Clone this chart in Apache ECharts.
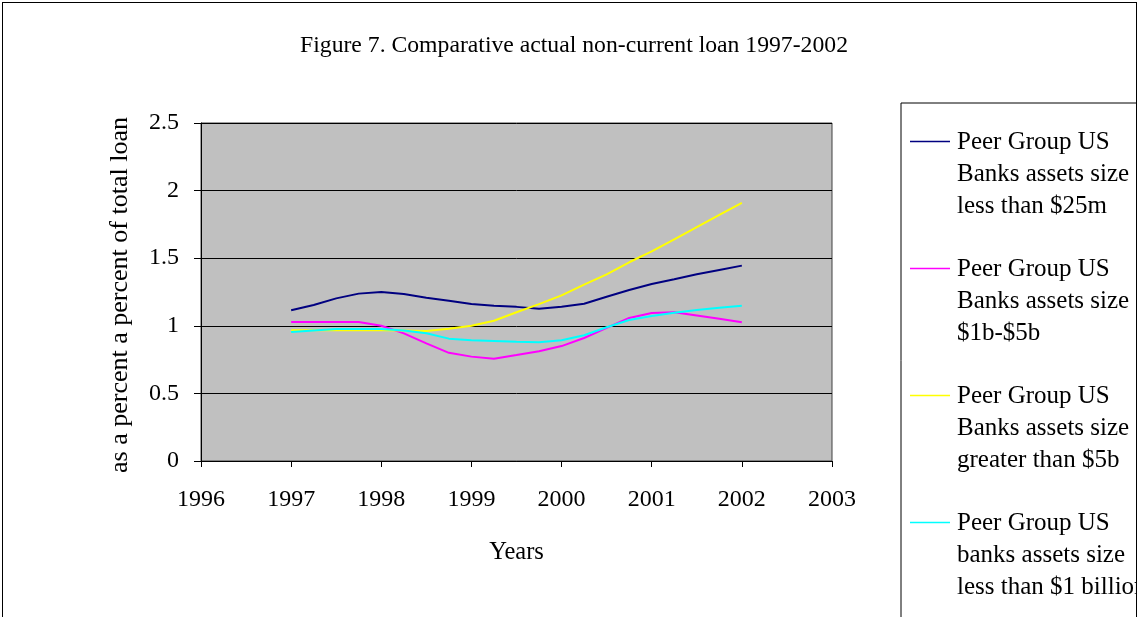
<!DOCTYPE html>
<html>
<head>
<meta charset="utf-8">
<script src="https://cdn.jsdelivr.net/npm/echarts@6/dist/echarts.min.js"></script>
<style>
  html, body { margin: 0; padding: 0; background: #fff; }
  #chart { position: absolute; left: 0; top: 0; width: 1137px; height: 617px; }
  #frame { position: absolute; left: 2px; top: 2px; width: 1133px; height: 640px;
           border: 1px solid #000; pointer-events: none; }
</style>
</head>
<body>
<div id="chart"></div>
<div id="frame"></div>
<script>
// Quarterly observation points (decimal years)
const quarters = [1997, 1997.25, 1997.5, 1997.75, 1998, 1998.25, 1998.5, 1998.75,
                  1999, 1999.25, 1999.5, 1999.75, 2000, 2000.25, 2000.5, 2000.75,
                  2001, 2001.25, 2001.5, 2001.75, 2002];

// Non-current loans as a percent of total loans
const under25m = [1.115, 1.154, 1.203, 1.238, 1.250, 1.235, 1.208, 1.186,
                  1.161, 1.149, 1.140, 1.127, 1.141, 1.163, 1.215, 1.265,
                  1.309, 1.344, 1.381, 1.413, 1.445];
const from1bTo5b = [1.028, 1.028, 1.028, 1.028, 1.000, 0.944, 0.870, 0.800,
                    0.772, 0.757, 0.784, 0.812, 0.850, 0.910, 0.985, 1.058,
                    1.095, 1.100, 1.076, 1.052, 1.026];
const over5b = [0.967, 0.967, 0.967, 0.967, 0.967, 0.965, 0.962, 0.978,
                1.000, 1.037, 1.100, 1.160, 1.225, 1.305, 1.380, 1.470,
                1.550, 1.640, 1.730, 1.820, 1.910];
const under1b = [0.954, 0.966, 0.976, 0.976, 0.976, 0.965, 0.945, 0.905,
                 0.893, 0.888, 0.882, 0.878, 0.893, 0.930, 0.989, 1.043,
                 1.072, 1.097, 1.117, 1.134, 1.149];

const seriesNames = [
  'Peer Group US\nBanks assets size\nless than $25m',
  'Peer Group US\nBanks assets size\n$1b-$5b',
  'Peer Group US\nBanks assets size\ngreater than $5b',
  'Peer Group US\nbanks assets size\nless than $1 billion'
];
const seriesValues = [under25m, from1bTo5b, over5b, under1b];
const seriesColors = ['#000080', '#FF00FF', '#FFFF00', '#00FFFF'];

const titleText = 'Figure 7. Comparative actual non-current loan 1997-2002';
const xAxisName = 'Years';
const yAxisName = 'as a percent a percent of total loans';

const FONT = 'Liberation Serif';

// Legend icon: short line level with the first text line of each entry
const legendIcon = 'path://M0,14.5H40V16H0Z M41.99,0H42V0.01H41.99Z M0,95.99H0.01V96H0Z';

const chart = echarts.init(document.getElementById('chart'), null, { renderer: 'canvas' });

chart.setOption({
  animation: false,
  backgroundColor: '#ffffff',
  textStyle: { fontFamily: FONT, color: '#000' },
  title: {
    text: titleText,
    left: 569,
    textAlign: 'center',
    top: 29,
    textStyle: { fontFamily: FONT, fontSize: 23.7, fontWeight: 'normal', color: '#000' }
  },
  legend: {
    orient: 'vertical',
    left: 901,
    top: 103,
    height: 640,
    padding: [23.3, 40, 40, 9],
    itemGap: 31,
    itemWidth: 42,
    itemHeight: 96,
    icon: legendIcon,
    itemStyle: { borderWidth: 0 },
    backgroundColor: '#fff',
    borderColor: '#000',
    borderWidth: 1,
    borderRadius: 0,
    textStyle: { fontFamily: FONT, fontSize: 25, lineHeight: 32, color: '#000' },
    data: seriesNames
  },
  grid: {
    left: 201,
    top: 123,
    width: 631,
    height: 338,
    show: true,
    backgroundColor: '#C0C0C0',
    borderColor: '#404040',
    borderWidth: 1
  },
  xAxis: {
    type: 'value',
    min: 1996,
    max: 2003,
    interval: 1,
    name: xAxisName,
    nameLocation: 'middle',
    nameGap: 79,
    nameTextStyle: { fontFamily: FONT, fontSize: 24.5, color: '#000' },
    axisLine: { show: true, onZero: false, lineStyle: { color: '#000', width: 1 } },
    axisTick: { show: true, length: 6, lineStyle: { color: '#000' } },
    axisLabel: {
      fontFamily: FONT, fontSize: 24, color: '#000', margin: 27,
      formatter: (v) => String(v)
    },
    splitLine: { show: false }
  },
  yAxis: {
    type: 'value',
    min: 0,
    max: 2.5,
    interval: 0.5,
    name: yAxisName,
    nameLocation: 'middle',
    nameGap: 68,
    nameRotate: 90,
    nameTruncate: { maxWidth: 362, ellipsis: '' },
    nameTextStyle: { fontFamily: FONT, fontSize: 26, color: '#000', padding: [0, 6, 0, 0] },
    axisLine: { show: true, lineStyle: { color: '#000', width: 1 } },
    axisTick: { show: true, length: 7, lineStyle: { color: '#000' } },
    axisLabel: { fontFamily: FONT, fontSize: 24, color: '#000', margin: 22 },
    splitLine: { show: true, lineStyle: { color: '#000', width: 1 } }
  },
  series: seriesValues.map((vals, i) => ({
    name: seriesNames[i],
    type: 'line',
    data: quarters.map((q, j) => [q, vals[j]]),
    showSymbol: false,
    symbol: 'none',
    color: seriesColors[i],
    lineStyle: { color: seriesColors[i], width: 2 },
    itemStyle: { color: seriesColors[i] },
    emphasis: { disabled: true }
  }))
});
</script>
</body>
</html>
